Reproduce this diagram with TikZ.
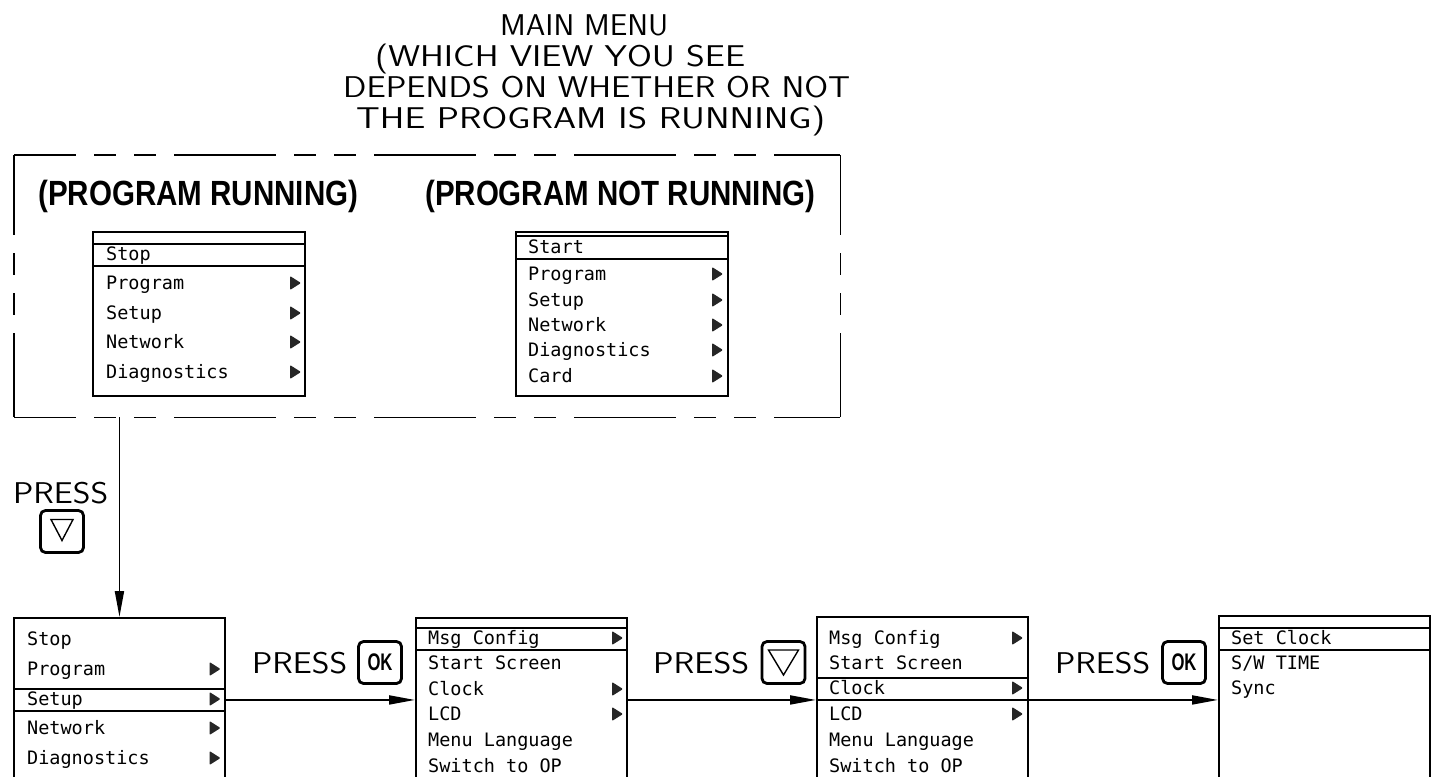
\documentclass[tikz,border=0pt]{standalone}
\usepackage{fontspec}
\usepackage{graphicx}
\usetikzlibrary{arrows.meta}
\newfontfamily\menufont{DejaVu Sans Mono}
\newfontfamily\hdrfont{Liberation Sans}
\newcommand\fw[2]{\resizebox{#1}{\height}{#2}}
\tikzset{
  menubox/.style={draw, line width=1.9pt, inner sep=0pt, anchor=north west},
  selbox/.style={draw, line width=1.9pt, inner sep=0pt, anchor=north west, minimum height=22pt},
  mtext/.style={font=\menufont\fontsize{18.5}{20}\selectfont, anchor=base west, inner sep=0pt},
  ttl/.style={font=\sffamily\fontsize{30}{32}\selectfont, anchor=base west, inner sep=0pt},
  hdr/.style={font=\hdrfont\bfseries\fontsize{35}{40}\selectfont, anchor=base west, inner sep=0pt},
  keybox/.style={draw, line width=2.8pt, rounded corners=5pt, minimum width=43pt, minimum height=42pt, inner sep=0pt},
  oktext/.style={font=\hdrfont\bfseries\fontsize{24}{26}\selectfont},
  keytri/.style={line width=1.4pt, line join=miter},
  conn/.style={line width=1.9pt, -{Triangle[length=26pt,width=9pt]}},
  framedash/.style={line width=1.8pt, dash pattern=on 102pt off 18pt on 22pt off 18pt on 22pt off 18pt},
  subm/.pic={\fill[black!85, rounded corners=1pt] (-5,-7) -- (6,0) -- (-5,7) -- cycle;},
}
\begin{document}
\begin{tikzpicture}[x=1pt,y=-1pt]
\useasboundingbox (0,0) rectangle (1439,776);

% title
\node[ttl] (t1) at (500,35) {\fw{168pt}{MAIN MENU}};
\node[ttl] (t2) at (375,66) {\fw{370pt}{(WHICH VIEW YOU SEE}};
\node[ttl] (t3) at (343,97) {\fw{507pt}{DEPENDS ON WHETHER OR NOT}};
\node[ttl] (t4) at (356,128) {\fw{469pt}{THE PROGRAM IS RUNNING)}};

% dashed frame
\node[inner sep=0pt, minimum width=826pt, minimum height=262pt, anchor=north west] (frame) at (14,155) {};
\draw[framedash, dash phase=40pt] (frame.north west) -- (frame.north east);
\draw[framedash, dash phase=40pt] (frame.south west) -- (frame.south east);
\draw[framedash, dash phase=22pt] (frame.north west) -- (frame.south west);
\draw[framedash, dash phase=22pt] (frame.north east) -- (frame.south east);

\node[hdr] (h1) at (38,205.5) {\fw{320pt}{(PROGRAM RUNNING)}};
\node[hdr] (h2) at (425,205.5) {\fw{390pt}{(PROGRAM NOT RUNNING)}};

% menu A (program running)
\node[menubox, minimum width=212pt, minimum height=164pt] (A) at (92,231) {};
\node[selbox, minimum width=212pt] (Asel) at (92,243) {};
\foreach \t/\y [count=\i] in {Stop/254, Program/283, Setup/313, Network/342, Diagnostics/372}
  \node[mtext] (A-\i) at (106,\y+6.5) {\t};
\foreach \y in {283,313,342,372} \pic at (295,\y) {subm};

% menu B (program not running)
\node[menubox, minimum width=212pt, minimum height=164pt] (B) at (515,231) {};
\node[selbox, minimum width=212pt, minimum height=23pt] (Bsel) at (515,235) {};
\foreach \t/\y [count=\i] in {Start/247, Program/274, Setup/300, Network/325, Diagnostics/350, Card/376}
  \node[mtext] (B-\i) at (528,\y+6.5) {\t};
\foreach \y in {274,300,325,350,376} \pic at (717,\y) {subm};

% press down (left)
\node[ttl] (p0) at (13,503) {\fw{95pt}{PRESS}};
\node[keybox] (k0) at (62,531.5) {};
\draw[keytri] ([shift={(-11,-12)}]k0.center) -- ([shift={(11,-12)}]k0.center) -- ([shift={(0,9)}]k0.center) -- cycle;

% menu C
\node[menubox, minimum width=211pt, minimum height=200pt] (C) at (13,617) {};
\node[selbox, minimum width=211pt] (Csel) at (13,688) {};
\foreach \t/\y [count=\i] in {Stop/639, Program/669, Setup/699, Network/728, Diagnostics/758}
  \node[mtext] (C-\i) at (27,\y+6.5) {\t};
\foreach \y in {669,699,728,758} \pic at (214.5,\y) {subm};

% menu D
\node[menubox, minimum width=211pt, minimum height=200pt] (D) at (415,617) {};
\node[selbox, minimum width=211pt] (Dsel) at (415,627) {};
\foreach \t/\y [count=\i] in {Msg Config/638, Start Screen/663, Clock/689, LCD/714, Menu Language/740, Switch to OP/766}
  \node[mtext] (D-\i) at (428,\y+6.5) {\t};
\foreach \y in {638,689,714} \pic at (617,\y) {subm};

% menu E
\node[menubox, minimum width=211pt, minimum height=200pt] (E) at (816,616) {};
\node[selbox, minimum width=211pt] (Esel) at (816,677) {};
\foreach \t/\y [count=\i] in {Msg Config/638, Start Screen/663, Clock/688, LCD/714, Menu Language/740, Switch to OP/766}
  \node[mtext] (E-\i) at (829,\y+6.5) {\t};
\foreach \y in {638,688,714} \pic at (1017,\y) {subm};

% menu F
\node[menubox, minimum width=211pt, minimum height=200pt] (F) at (1218,615) {};
\node[selbox, minimum width=211pt] (Fsel) at (1218,627) {};
\node[mtext] (F-1) at (1231,644.5) {Set Clock};
\node[mtext] (F-2) at (1231,669.5) {S/W TIME};
\node[mtext] (F-3) at (1231,694.5) {Sync};

% press labels between bottom menus
\node[ttl] (p1) at (252,673) {\fw{95pt}{PRESS}};
\node[keybox, oktext] (k1) at (380,662.5) {\fw{25pt}{OK}};
\node[ttl] (p2) at (653,673) {\fw{96pt}{PRESS}};
\node[keybox] (k2) at (783.5,662.5) {};
\draw[keytri] ([shift={(-15,-12.5)}]k2.center) -- ([shift={(15,-12.5)}]k2.center) -- ([shift={(0,12.5)}]k2.center) -- cycle;
\node[ttl] (p3) at (1055,673) {\fw{95pt}{PRESS}};
\node[keybox, oktext] (k3) at (1184,662.5) {\fw{25pt}{OK}};

% connectors
\draw[conn] (frame.south -| C.north) -- (C.north);
\draw[conn] (Csel.east) -- (Csel.east -| D.west);
\draw[conn] (Csel.east -| D.east) -- (Csel.east -| E.west);
\draw[conn] (Csel.east -| E.east) -- (Csel.east -| F.west);
\end{tikzpicture}
\end{document}
